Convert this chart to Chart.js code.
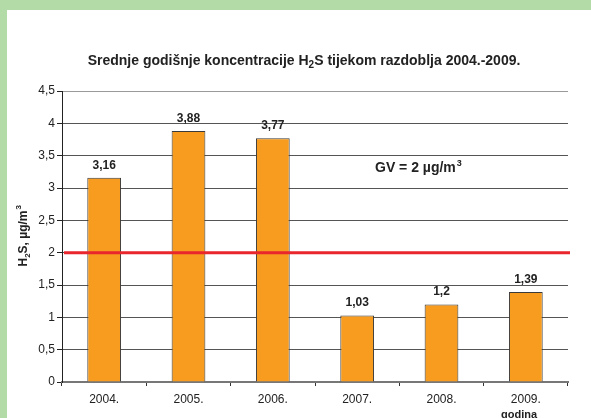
<!DOCTYPE html>
<html lang="hr">
<head>
    <meta charset="UTF-8">
    <title>Srednje godišnje koncentracije H2S</title>
    <script src="https://cdn.jsdelivr.net/npm/chart.js"></script>
    <style>
        body {
            margin: 0;
            background-color: #fff;
        }

        .frame {
            width: 584px;
            height: 408px;
            border-top: 10px solid #b3dba8;
            border-left: 7px solid #b3dba8;
            background-color: #fff;
        }

        .chart-box {
            position: relative;
            width: 584px;
            height: 408px;
        }
    </style>
</head>
<body>
    <div class="frame">
        <div class="chart-box">
            <canvas id="h2sChart"></canvas>
        </div>
    </div>

    <script>
        // podaci
        const years = ['2004.', '2005.', '2006.', '2007.', '2008.', '2009.'];
        const h2sValues = [3.16, 3.88, 3.77, 1.03, 1.2, 1.39];
        const limitValue = 2; // GV
        const yTicks = [0, 0.5, 1, 1.5, 2, 2.5, 3, 3.5, 4, 4.5];

        const FONT = "'Liberation Sans', Arial, sans-serif";

        function fmt(v) {
            return String(v).replace('.', ',');
        }

        // crta naslov, oznake, GV liniju
        const extras = {
            id: 'extras',
            afterDatasetsDraw(chart) {
                const ctx = chart.ctx;
                const area = chart.chartArea;
                const y = chart.scales.y;

                // GV linija
                const yGv = y.getPixelForValue(limitValue);
                ctx.save();
                ctx.strokeStyle = '#e8262c';
                ctx.lineWidth = 3;
                ctx.beginPath();
                ctx.moveTo(area.left + 2, yGv);
                ctx.lineTo(area.right + 2, yGv);
                ctx.stroke();

                // vrijednosti iznad stupaca
                ctx.fillStyle = '#222';
                ctx.font = 'bold 12px ' + FONT;
                ctx.textAlign = 'center';
                ctx.textBaseline = 'alphabetic';
                const meta = chart.getDatasetMeta(0);
                meta.data.forEach((bar, i) => {
                    ctx.fillText(fmt(h2sValues[i]), bar.x, bar.y - 9);
                });

                // naslov
                ctx.font = 'bold 14px ' + FONT;
                ctx.textAlign = 'left';
                const t1 = 'Srednje godišnje koncentracije H';
                const t2 = 'S tijekom razdoblja 2004.-2009.';
                const w1 = ctx.measureText(t1).width;
                ctx.font = 'bold 10px ' + FONT;
                const ws = ctx.measureText('2').width;
                ctx.font = 'bold 14px ' + FONT;
                const w2 = ctx.measureText(t2).width;
                let tx = 297 - (w1 + ws + w2) / 2;
                const ty = 55;
                ctx.fillText(t1, tx, ty);
                ctx.font = 'bold 10px ' + FONT;
                ctx.fillText('2', tx + w1, ty + 3);
                ctx.font = 'bold 14px ' + FONT;
                ctx.fillText(t2, tx + w1 + ws, ty);

                // GV tekst
                const gv = 'GV = 2 µg/m';
                ctx.fillText(gv, 368, 162);
                const wg = ctx.measureText(gv).width;
                ctx.font = 'bold 9px ' + FONT;
                ctx.fillText('3', 368 + wg + 1, 156);

                // naziv y osi
                ctx.save();
                ctx.translate(20, 226);
                ctx.rotate(-Math.PI / 2);
                ctx.textAlign = 'left';
                const a1 = 'H';
                const a3 = 'S, µg/m';
                ctx.font = 'bold 12px ' + FONT;
                const wa1 = ctx.measureText(a1).width;
                const wa3 = ctx.measureText(a3).width;
                ctx.font = 'bold 8px ' + FONT;
                const wa2 = ctx.measureText('2').width;
                const ax = -(wa1 + wa2 + wa3 + 5) / 2;
                ctx.font = 'bold 12px ' + FONT;
                ctx.fillText(a1, ax, 0);
                ctx.fillText(a3, ax + wa1 + wa2, 0);
                ctx.font = 'bold 8px ' + FONT;
                ctx.fillText('2', ax + wa1, 3);
                ctx.fillText('3', ax + wa1 + wa2 + wa3 + 1, -6);
                ctx.restore();

                // naziv x osi
                ctx.font = 'bold 11px ' + FONT;
                ctx.textAlign = 'center';
                ctx.fillText('godina', 512, 408);
                ctx.restore();
            }
        };

        const ctx = document.getElementById('h2sChart').getContext('2d');
        const h2sChart = new Chart(ctx, {
            type: 'bar',
            data: {
                labels: years,
                datasets: [{
                    data: h2sValues,
                    backgroundColor: '#f79c1f',
                    borderColor: '#3a3a3a',
                    borderWidth: 1,
                    barPercentage: 0.4,
                    categoryPercentage: 1.0
                }]
            },
            options: {
                responsive: true,
                maintainAspectRatio: false,
                animation: false,
                layout: { padding: { top: 81, right: 23, bottom: 0, left: 0 } },
                plugins: {
                    legend: { display: false },
                    title: { display: false },
                    tooltip: { enabled: false }
                },
                scales: {
                    x: {
                        afterFit: (s) => { s.height = 36; },
                        grid: {
                            offset: true,
                            color: (c) => c.index === years.length ? '#9a9a9a' : 'rgba(0,0,0,0)',
                            tickColor: '#333',
                            tickLength: 4
                        },
                        border: { color: '#777', width: 2 },
                        ticks: {
                            color: '#222',
                            padding: 6,
                            font: { family: FONT, size: 12 }
                        }
                    },
                    y: {
                        min: 0,
                        max: 4.5,
                        afterFit: (s) => { s.width = 55; },
                        afterBuildTicks: (s) => {
                            s.ticks = yTicks.map(v => ({ value: v }));
                        },
                        grid: {
                            color: (c) => c.tick && c.tick.value === 4.5 ? '#9a9a9a' : '#555',
                            tickColor: '#222',
                            tickLength: 5
                        },
                        border: { color: '#222', width: 1 },
                        ticks: {
                            color: '#222',
                            padding: 2,
                            font: { family: FONT, size: 12 },
                            callback: (v) => fmt(v)
                        }
                    }
                }
            },
            plugins: [extras]
        });
    </script>
</body>
</html>
